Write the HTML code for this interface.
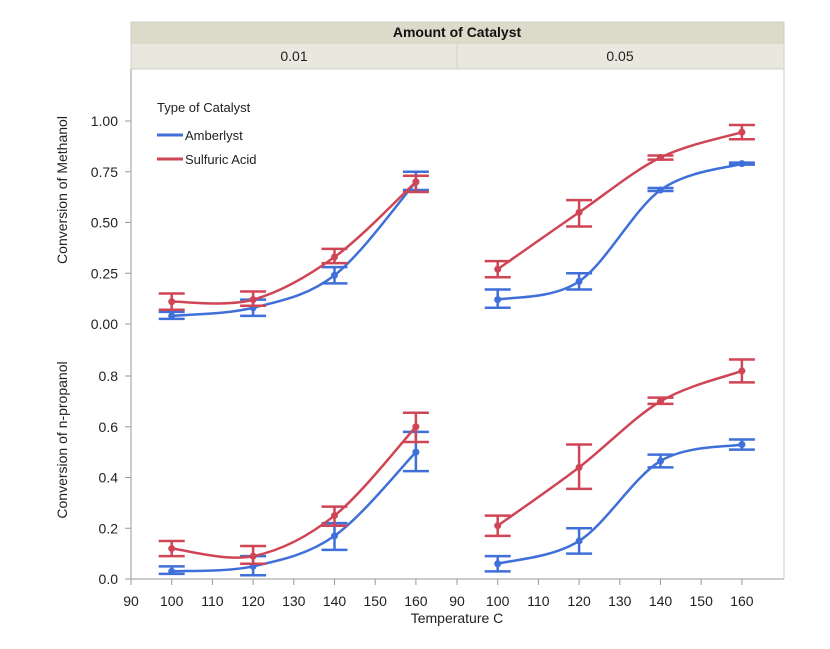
<!DOCTYPE html>
<html><head><meta charset="utf-8"><style>
html,body{margin:0;padding:0;background:#fff;width:830px;height:649px;overflow:hidden}
svg{display:block;font-family:"Liberation Sans",sans-serif}
</style></head><body>
<svg id="chart" width="830" height="649" viewBox="0 0 830 649">
<rect x="131" y="22" width="653" height="21" fill="#dcdacb" stroke="#cfcdbf"/>
<text x="457" y="37" text-anchor="middle" font-size="14" font-weight="bold" fill="#111">Amount of Catalyst</text>
<rect x="131" y="43" width="326" height="26" fill="#e9e8de" stroke="#d4d2c6"/>
<rect x="457" y="43" width="327" height="26" fill="#e9e8de" stroke="#d4d2c6"/>
<text x="294" y="61" text-anchor="middle" font-size="14" fill="#222">0.01</text>
<text x="620" y="61" text-anchor="middle" font-size="14" fill="#222">0.05</text>
<line x1="784" y1="69" x2="784" y2="579" stroke="#ccc"/>
<line x1="131" y1="69" x2="131" y2="579" stroke="#999"/>
<line x1="131" y1="579" x2="784" y2="579" stroke="#999"/>
<text transform="translate(67,190) rotate(-90)" text-anchor="middle" font-size="14" fill="#222">Conversion of Methanol</text>
<text transform="translate(67,440) rotate(-90)" text-anchor="middle" font-size="14" fill="#222">Conversion of n-propanol</text>
<text x="457" y="623" text-anchor="middle" font-size="14" fill="#222">Temperature C</text>
<g>
<text x="157" y="112" font-size="13" fill="#222">Type of Catalyst</text>
<line x1="157" y1="135" x2="183" y2="135" stroke="#3f6fd8" stroke-width="3"/>
<text x="185" y="140" font-size="13" fill="#222">Amberlyst</text>
<line x1="157" y1="159" x2="183" y2="159" stroke="#d04555" stroke-width="3"/>
<text x="185" y="164" font-size="13" fill="#222">Sulfuric Acid</text>
</g>
<g id="marks"></g>
</svg>
<script>
const temps=[100,120,140,160];
const xTicks=[90,100,110,120,130,140,150,160];
const topTicks=[0,0.25,0.5,0.75,1.0];
const topTickLabels=["0.00","0.25","0.50","0.75","1.00"];
const botTicks=[0,0.2,0.4,0.6,0.8];
const botTickLabels=["0.0","0.2","0.4","0.6","0.8"];
// methanol, 0.01
const mA1=[0.04,0.08,0.24,0.70], mA1lo=[0.025,0.04,0.20,0.66], mA1hi=[0.06,0.12,0.28,0.75];
const mS1=[0.11,0.12,0.33,0.70], mS1lo=[0.07,0.09,0.30,0.65], mS1hi=[0.15,0.16,0.37,0.73];
// methanol, 0.05
const mA5=[0.12,0.21,0.66,0.79], mA5lo=[0.08,0.17,0.655,0.785], mA5hi=[0.17,0.25,0.67,0.795];
const mS5=[0.27,0.55,0.82,0.945], mS5lo=[0.23,0.48,0.81,0.91], mS5hi=[0.31,0.61,0.83,0.98];
// propanol, 0.01
const pA1=[0.03,0.05,0.17,0.50], pA1lo=[0.02,0.015,0.115,0.425], pA1hi=[0.05,0.09,0.22,0.58];
const pS1=[0.12,0.09,0.25,0.60], pS1lo=[0.09,0.06,0.21,0.54], pS1hi=[0.15,0.13,0.285,0.655];
// propanol, 0.05
const pA5=[0.06,0.15,0.465,0.53], pA5lo=[0.03,0.10,0.44,0.51], pA5hi=[0.09,0.20,0.49,0.55];
const pS5=[0.21,0.44,0.70,0.82], pS5lo=[0.17,0.355,0.69,0.775], pS5hi=[0.25,0.53,0.715,0.865];

const NS="http://www.w3.org/2000/svg";
const svg=document.getElementById('chart');
const g=document.getElementById('marks');
const BLUE="#3f6fd8",RED="#d04555";
function xs(panel,t){return (panel?457:131)+(t-90)*4.07;}
function yTop(v){return 324-v*203;}
function yBot(v){return 579-v*253.75;}
function mk(tag,attrs,parent){const e=document.createElementNS(NS,tag);for(const k in attrs)e.setAttribute(k,attrs[k]);(parent||g).appendChild(e);return e;}
// x ticks
[0,1].forEach(p=>{xTicks.forEach(t=>{
  const x=xs(p,t);
  const l=mk('line',{x1:x,y1:579,x2:x,y2:585,stroke:'#999'});
  
  
  const tx=mk('text',{x:x,y:606,'text-anchor':'middle','font-size':14,fill:'#222'});
  tx.textContent=t;
  
  
});});
function yAxis(ticks,labels,sc){ticks.forEach((v,i)=>{
  const y=sc(v);
  const l=mk('line',{x1:125,y1:y,x2:131,y2:y,stroke:'#999'});
  
  
  const tx=mk('text',{x:118,y:y+5,'text-anchor':'end','font-size':14,fill:'#222'});
  tx.textContent=labels[i];
  
  
});}
yAxis(topTicks,topTickLabels,yTop);
yAxis(botTicks,botTickLabels,yBot);
function series(panel,sc,vals,lo,hi,color,name){
  const pts=temps.map((t,i)=>[xs(panel,t),sc(vals[i])]);
  let d='M'+pts[0][0]+','+pts[0][1];
  for(let i=0;i<pts.length-1;i++){
    const p0=pts[Math.max(0,i-1)],p1=pts[i],p2=pts[i+1],p3=pts[Math.min(pts.length-1,i+2)];
    const c1=[p1[0]+(p2[0]-p0[0])/6,p1[1]+(p2[1]-p0[1])/6];
    const c2=[p2[0]-(p3[0]-p1[0])/6,p2[1]-(p3[1]-p1[1])/6];
    d+=' C'+c1[0]+','+c1[1]+' '+c2[0]+','+c2[1]+' '+p2[0]+','+p2[1];
  }
  const path=mk('path',{d:d,fill:'none',stroke:color,'stroke-width':2.5});
  
  
  temps.forEach((t,i)=>{
    const x=xs(panel,t),y1=sc(lo[i]),y2=sc(hi[i]);
    const e=mk('path',{d:`M${x-13},${y1}H${x+13}M${x-13},${y2}H${x+13}M${x},${y1}V${y2}`,stroke:color,'stroke-width':2.5,fill:'none'});
    
    
    const c=mk('circle',{cx:x,cy:sc(vals[i]),r:3.5,fill:color});
    
    
  });
}
series(0,yTop,mA1,mA1lo,mA1hi,BLUE,'methanol-amberlyst-0.01');
series(0,yTop,mS1,mS1lo,mS1hi,RED,'methanol-sulfuric-0.01');
series(1,yTop,mA5,mA5lo,mA5hi,BLUE,'methanol-amberlyst-0.05');
series(1,yTop,mS5,mS5lo,mS5hi,RED,'methanol-sulfuric-0.05');
series(0,yBot,pA1,pA1lo,pA1hi,BLUE,'propanol-amberlyst-0.01');
series(0,yBot,pS1,pS1lo,pS1hi,RED,'propanol-sulfuric-0.01');
series(1,yBot,pA5,pA5lo,pA5hi,BLUE,'propanol-amberlyst-0.05');
series(1,yBot,pS5,pS5lo,pS5hi,RED,'propanol-sulfuric-0.05');
</script>
</body></html>
